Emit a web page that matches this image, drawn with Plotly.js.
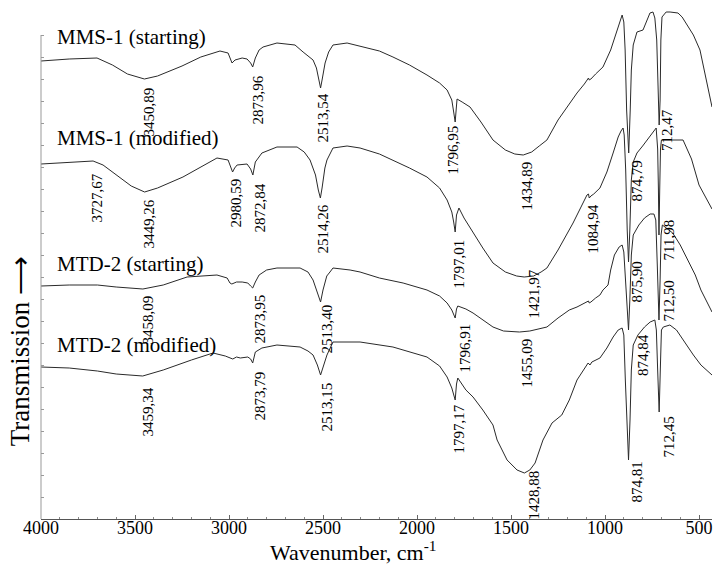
<!DOCTYPE html>
<html><head><meta charset="utf-8">
<script src="https://cdn.plot.ly/plotly-3.0.1.min.js"></script>
<style>html,body{margin:0;padding:0;background:#fff}#c{width:715px;height:564px}</style>
</head><body><div id="c"></div>
<script>
// Wavenumbers (cm-1) and transmission (arbitrary offset units) for each spectrum
const wn1 = [4000,3850,3702,3620,3540,3450,3380,3250,3150,3048,3005,2990,2984,2968,2930,2904,2885,2874,2860,2840,2819,2745,2649,2606,2570,2553,2535,2520,2513,2505,2489,2470,2447,2372,2303,2200,2128,2040,1947,1880,1840,1815,1805,1797,1791,1787,1760,1718,1660,1596,1530,1480,1435,1390,1350,1309,1250,1190,1149,1110,1096,1088,1084,1075,1050,1011,970,936,915,909,900,893,885,874,866,860,850,830,798,761,745,735,725,717,712,707,703,697,675,654,612,590,564,530,495,460,431];
const t1  = [458,460,461,454,445,440,443,453,462,468,466,459,456,459,461,460,456,452,461,469,472,476,474,467,462,459,451,437,431,439,456,467,474,476,473,468,462,454,444,436,429,419,407,397,411,420,417,412,397,379,369,365,364,367,373,379,399,415,426,435,439,441,439,440,445,452,469,489,501,504,497,469,409,366,409,449,474,487,489,506,507,501,479,419,394,419,479,502,507,507,506,502,494,484,469,439,412];

const wn2 = [4000,3850,3723,3670,3600,3520,3449,3380,3245,3150,3064,3005,2990,2981,2970,2957,2904,2885,2873,2860,2825,2745,2638,2600,2569,2540,2525,2514,2505,2490,2479,2447,2372,2303,2200,2128,2040,1947,1880,1840,1815,1805,1797,1790,1777,1750,1702,1650,1596,1530,1470,1430,1380,1340,1309,1250,1170,1130,1096,1088,1084,1075,1060,1027,990,957,930,915,904,898,890,882,875,868,860,850,830,800,770,740,728,720,716,713,709,705,700,660,585,540,500,431];
const t2  = [355,357,358,354,344,333,327,331,342,352,361,359,352,347,351,354,355,350,344,357,366,372,372,367,359,344,329,321,331,351,359,371,373,371,365,359,351,342,331,319,307,297,287,304,311,301,286,271,256,247,243,242,243,247,251,269,296,311,324,325,321,323,325,331,347,366,382,388,391,384,349,289,257,289,339,357,366,373,380,388,391,370,330,284,330,370,379,379,379,360,334,310];

const wn3 = [4000,3850,3700,3600,3458,3350,3223,3064,3010,2995,2985,2960,2930,2900,2885,2874,2860,2840,2800,2745,2622,2580,2553,2530,2513,2500,2480,2463,2447,2356,2303,2200,2074,1947,1880,1840,1815,1797,1790,1783,1740,1702,1650,1596,1540,1490,1455,1400,1350,1309,1250,1190,1149,1110,1096,1088,1084,1075,1050,1027,1011,984,970,950,925,909,900,892,883,875,868,860,850,820,790,760,740,730,722,713,707,702,695,675,640,600,560,520,490,431];
const t3  = [233,234,234,232,230,234,242,244,241,236,235,237,237,236,233,231,237,244,249,251,251,247,239,227,217,229,243,247,251,249,247,241,236,229,223,216,209,201,210,213,210,206,199,192,188,187,187,188,190,192,201,209,212,216,217,218,216,217,221,224,229,234,249,264,272,274,267,239,204,189,219,264,284,294,301,305,305,299,254,199,239,284,294,291,286,274,259,244,229,207];

const wn4 = [4000,3850,3700,3600,3459,3350,3200,3085,3020,2995,2980,2960,2940,2900,2885,2874,2860,2825,2745,2622,2580,2553,2530,2513,2500,2479,2447,2303,2128,1947,1880,1840,1815,1797,1790,1783,1740,1702,1650,1596,1574,1521,1468,1429,1400,1372,1330,1282,1230,1190,1149,1110,1090,1080,1070,1027,990,957,930,909,900,892,883,875,867,860,850,825,790,760,735,727,720,712,706,700,690,655,620,575,530,490,431];
const t4  = [152,151,148,145,143,149,159,166,163,161,160,162,161,162,160,156,167,171,174,172,168,164,154,144,151,164,177,177,172,162,153,142,131,119,135,141,129,122,109,94,79,59,49,46,49,56,79,96,104,119,139,151,156,154,157,161,171,182,189,191,184,139,89,59,99,149,174,184,192,197,199,189,149,107,149,189,192,194,189,176,164,154,144];

const seriesNames = ["MMS-1 (starting)","MMS-1 (modified)","MTD-2 (starting)","MTD-2 (modified)"];
const nameX = [3926,3926,3926,3926];
const nameY = [482,381,255,174];

// Peak labels: text, position (wavenumber, transmission at label top)
const peakText = ["3450,89","2873,96","2513,54","1796,95","1434,89","874,79","712,47",
  "3727,67","3449,26","2980,59","2872,84","2514,26","1797,01","1421,97","1084,94","875,90","711,98",
  "3458,09","2873,95","2513,40","1796,91","1455,09","874,84","712,50",
  "3459,34","2873,79","2513,15","1797,17","1428,88","874,81","712,45"];
const peakX = [3426,2846,2505,1809,1420,830,670,
  3707,3426,2968,2840,2505,1782,1378,1069,835,665,
  3431,2840,2479,1750,1420,798,660,
  3431,2840,2479,1777,1378,835,665];
const peakY = [434,446,427,396,359,361,412,
  347,322,342,337,316,281,252,316,259,301,
  226,226,217,197,182,187,241,
  134,149,139,117,51,59,104];

const xTicks = [4000,3500,3000,2500,2000,1500,1000,500];

const serif = "Liberation Serif";
const lineStyle = {color:"#2a2a2a", width:1};
const traces = [[wn1,t1],[wn2,t2],[wn3,t3],[wn4,t4]].map((d,i)=>({
  x:d[0], y:d[1], type:"scatter", mode:"lines", line:lineStyle, name:seriesNames[i], hoverinfo:"skip"
}));

const ann = [];
seriesNames.forEach((s,i)=>ann.push({x:nameX[i], y:nameY[i], xref:"x", yref:"y", text:s, showarrow:false,
  xanchor:"left", yanchor:"middle", font:{family:serif, size:21, color:"#000"}}));
peakText.forEach((s,i)=>ann.push({x:peakX[i], y:peakY[i], xref:"x", yref:"y", text:s, showarrow:false,
  textangle:-90, xanchor:"center", yanchor:"top", font:{family:serif, size:15, color:"#000"}}));
ann.push({x:0.466, y:-0.062, xref:"paper", yref:"paper", xanchor:"center", yanchor:"middle",
  text:"Wavenumber, cm<sup>-1</sup>", showarrow:false, font:{family:serif, size:22, color:"#000"}});
ann.push({x:-0.031, y:0.33, xref:"paper", yref:"paper", xanchor:"center", yanchor:"middle", textangle:-90,
  text:"Transmission \u27F6", showarrow:false, font:{family:serif, size:27, color:"#000"}});

const yT = []; for (let v=0; v<=484; v+=22) yT.push(v);

const layout = {
  width:715, height:564, margin:{l:41, r:3, t:10, b:45},
  paper_bgcolor:"#fff", plot_bgcolor:"#fff", showlegend:false,
  font:{family:serif},
  xaxis:{range:[4000,431], tickvals:xTicks, ticks:"inside", ticklen:4, tickcolor:"#666",
    showline:true, linecolor:"#555", linewidth:1, showgrid:false, zeroline:false,
    ticklabelstandoff:-8,
    tickfont:{family:serif, size:18, color:"#000"},
    minor:{dtick:100, ticks:"inside", ticklen:2, tickcolor:"#888"}},
  yaxis:{range:[0,509], tickvals:yT, showticklabels:false, ticks:"inside", ticklen:3, tickcolor:"#999",
    showline:false, showgrid:false, zeroline:false},
  shapes:[{type:"line", xref:"paper", yref:"y", x0:0, x1:0, y0:0, y1:484, line:{color:"#999", width:1}}],
  annotations:ann
};
Plotly.newPlot("c", traces, layout, {displayModeBar:false, staticPlot:true});
</script></body></html>
